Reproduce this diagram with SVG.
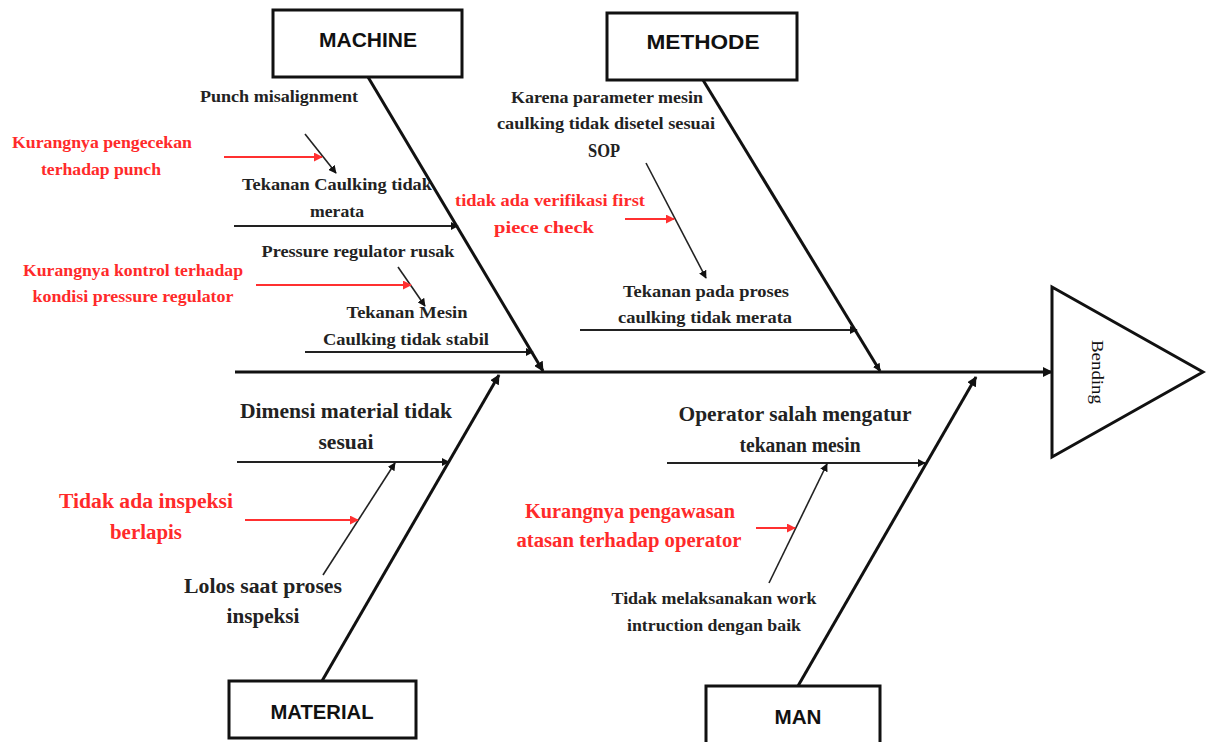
<svg xmlns="http://www.w3.org/2000/svg" width="1206" height="742" viewBox="0 0 1206 742">
<style>
.bg{fill:#ffffff}
.box{fill:#ffffff;stroke:#111;stroke-width:3}
.lbl{font-family:"Liberation Sans",Arial,sans-serif;font-weight:bold;font-size:20px;fill:#111;text-anchor:middle}
.t{font-family:"Liberation Serif","Times New Roman",serif;font-weight:bold;font-size:17px;fill:#222;text-anchor:middle}
.tl{font-family:"Liberation Serif","Times New Roman",serif;font-weight:bold;font-size:20px;fill:#222;text-anchor:middle}
.r{font-family:"Liberation Serif","Times New Roman",serif;font-weight:bold;font-size:17px;fill:#ff2a2a;text-anchor:middle}
.rl{font-family:"Liberation Serif","Times New Roman",serif;font-weight:bold;font-size:20px;fill:#ff2a2a;text-anchor:middle}
.bone{stroke:#111;stroke-width:3;fill:none}
.sub{stroke:#222;stroke-width:2.2;fill:none}
.thin{stroke:#222;stroke-width:1.6;fill:none}
.red{stroke:#ff3030;stroke-width:2;fill:none}
</style>
<defs>
<marker id="ah" viewBox="0 0 10 10" refX="9" refY="5" markerWidth="10" markerHeight="10" markerUnits="userSpaceOnUse" orient="auto"><path d="M0,0 L10,5 L0,10 z" fill="#111"/></marker>
<marker id="ahs" viewBox="0 0 10 10" refX="9" refY="5" markerWidth="8" markerHeight="8" markerUnits="userSpaceOnUse" orient="auto"><path d="M0,0 L10,5 L0,10 z" fill="#111"/></marker>
<marker id="ahr" viewBox="0 0 10 10" refX="9" refY="5" markerWidth="9" markerHeight="9" markerUnits="userSpaceOnUse" orient="auto"><path d="M0,0 L10,5 L0,10 z" fill="#ff3030"/></marker>
</defs>
<rect class="bg" x="0" y="0" width="1206" height="742"/>

<g id="connectors">
  <line class="bone" x1="235" y1="372" x2="1052" y2="372" marker-end="url(#ah)"/>
  <line class="bone" x1="368" y1="77" x2="543" y2="371" marker-end="url(#ah)"/>
  <line class="bone" x1="703" y1="80" x2="880" y2="371" marker-end="url(#ahs)"/>
  <line class="bone" x1="322" y1="681" x2="499" y2="375" marker-end="url(#ah)"/>
  <line class="bone" x1="798" y1="686" x2="976" y2="377" marker-end="url(#ah)"/>

  <line class="sub" x1="234" y1="226" x2="458" y2="226" marker-end="url(#ahs)"/>
  <line class="sub" x1="305" y1="352" x2="533" y2="352" marker-end="url(#ahs)"/>
  <line class="sub" x1="580" y1="330" x2="857" y2="330" marker-end="url(#ahs)"/>
  <line class="sub" x1="237" y1="462" x2="449" y2="462" marker-end="url(#ahs)"/>
  <line class="sub" x1="667" y1="463" x2="925" y2="463" marker-end="url(#ahs)"/>

  <line class="thin" x1="305" y1="134" x2="336" y2="173" marker-end="url(#ahs)"/>
  <line class="thin" x1="398" y1="267" x2="425" y2="306" marker-end="url(#ahs)"/>
  <line class="thin" x1="646" y1="163" x2="706" y2="278" marker-end="url(#ahs)"/>
  <line class="thin" x1="323" y1="575" x2="395" y2="463" marker-end="url(#ahs)"/>
  <line class="thin" x1="769" y1="583" x2="827" y2="464" marker-end="url(#ahs)"/>

  <line class="red" x1="224" y1="157" x2="322" y2="157" marker-end="url(#ahr)"/>
  <line class="red" x1="256" y1="285" x2="411" y2="285" marker-end="url(#ahr)"/>
  <line class="red" x1="625" y1="219" x2="674" y2="219" marker-end="url(#ahr)"/>
  <line class="red" x1="245" y1="520" x2="358" y2="520" marker-end="url(#ahr)"/>
  <line class="red" x1="756" y1="528" x2="795" y2="528" marker-end="url(#ahr)"/>
</g>

<g id="machine">
  <rect class="box" x="273" y="10" width="189" height="67"/>
  <text class="lbl" x="368" y="47" textLength="98" lengthAdjust="spacingAndGlyphs">MACHINE</text>
</g>
<g id="methode">
  <rect class="box" x="607" y="13" width="190" height="67"/>
  <text class="lbl" x="703" y="49" textLength="113" lengthAdjust="spacingAndGlyphs">METHODE</text>
</g>
<g id="material">
  <rect class="box" x="229" y="681" width="187" height="57"/>
  <text class="lbl" x="322" y="719" textLength="103" lengthAdjust="spacingAndGlyphs">MATERIAL</text>
</g>
<g id="man">
  <rect class="box" x="706" y="686" width="174" height="70"/>
  <text class="lbl" x="798" y="724" textLength="47" lengthAdjust="spacingAndGlyphs">MAN</text>
</g>
<g id="head">
  <polygon points="1052,287 1052,457 1203,372" fill="#fff" stroke="#111" stroke-width="3" stroke-linejoin="miter"/>
  <text class="t" x="0" y="0" transform="translate(1092,372) rotate(90)" textLength="64" lengthAdjust="spacingAndGlyphs" style="font-weight:normal;fill:#111">Bending</text>
</g>

<g id="machine-causes">
  <text class="t" x="279" y="102" textLength="158" lengthAdjust="spacingAndGlyphs">Punch misalignment</text>
  <text class="r" x="102" y="148" textLength="180" lengthAdjust="spacingAndGlyphs">Kurangnya pengecekan</text>
  <text class="r" x="101" y="175" textLength="120" lengthAdjust="spacingAndGlyphs">terhadap punch</text>
  <text class="t" x="337" y="190" textLength="190" lengthAdjust="spacingAndGlyphs">Tekanan Caulking tidak</text>
  <text class="t" x="337" y="217" textLength="54" lengthAdjust="spacingAndGlyphs">merata</text>
  <text class="t" x="358" y="257" textLength="193" lengthAdjust="spacingAndGlyphs">Pressure regulator rusak</text>
  <text class="r" x="133" y="276" textLength="220" lengthAdjust="spacingAndGlyphs">Kurangnya kontrol terhadap</text>
  <text class="r" x="133" y="302" textLength="201" lengthAdjust="spacingAndGlyphs">kondisi pressure regulator</text>
  <text class="t" x="407" y="318" textLength="121" lengthAdjust="spacingAndGlyphs">Tekanan Mesin</text>
  <text class="t" x="406" y="345" textLength="166" lengthAdjust="spacingAndGlyphs">Caulking tidak stabil</text>
</g>

<g id="methode-causes">
  <text class="t" x="607" y="103" textLength="192" lengthAdjust="spacingAndGlyphs">Karena parameter mesin</text>
  <text class="t" x="606" y="129" textLength="218" lengthAdjust="spacingAndGlyphs">caulking tidak disetel sesuai</text>
  <text class="t" x="604" y="157" style="font-size:18px" textLength="32" lengthAdjust="spacingAndGlyphs">SOP</text>
  <text class="r" x="550" y="206" textLength="190" lengthAdjust="spacingAndGlyphs">tidak ada verifikasi first</text>
  <text class="r" x="544" y="233" textLength="100" lengthAdjust="spacingAndGlyphs">piece check</text>
  <text class="t" x="706" y="297" textLength="166" lengthAdjust="spacingAndGlyphs">Tekanan pada proses</text>
  <text class="t" x="705" y="323" textLength="174" lengthAdjust="spacingAndGlyphs">caulking tidak merata</text>
</g>

<g id="material-causes">
  <text class="tl" x="346" y="418" textLength="212" lengthAdjust="spacingAndGlyphs">Dimensi material tidak</text>
  <text class="tl" x="346" y="449" textLength="55" lengthAdjust="spacingAndGlyphs">sesuai</text>
  <text class="rl" x="146" y="508" textLength="174" lengthAdjust="spacingAndGlyphs">Tidak ada inspeksi</text>
  <text class="rl" x="146" y="539" textLength="72" lengthAdjust="spacingAndGlyphs">berlapis</text>
  <text class="tl" x="263" y="593" textLength="158" lengthAdjust="spacingAndGlyphs">Lolos saat proses</text>
  <text class="tl" x="263" y="623" textLength="73" lengthAdjust="spacingAndGlyphs">inspeksi</text>
</g>

<g id="man-causes">
  <text class="tl" x="795" y="421" textLength="233" lengthAdjust="spacingAndGlyphs">Operator salah mengatur</text>
  <text class="tl" x="800" y="452" textLength="121" lengthAdjust="spacingAndGlyphs">tekanan mesin</text>
  <text class="rl" x="630" y="518" textLength="210" lengthAdjust="spacingAndGlyphs">Kurangnya pengawasan</text>
  <text class="rl" x="629" y="547" textLength="225" lengthAdjust="spacingAndGlyphs">atasan terhadap operator</text>
  <text class="t" x="714" y="604" textLength="205" lengthAdjust="spacingAndGlyphs">Tidak melaksanakan work</text>
  <text class="t" x="714" y="631" textLength="174" lengthAdjust="spacingAndGlyphs">intruction dengan baik</text>
</g>
</svg>
